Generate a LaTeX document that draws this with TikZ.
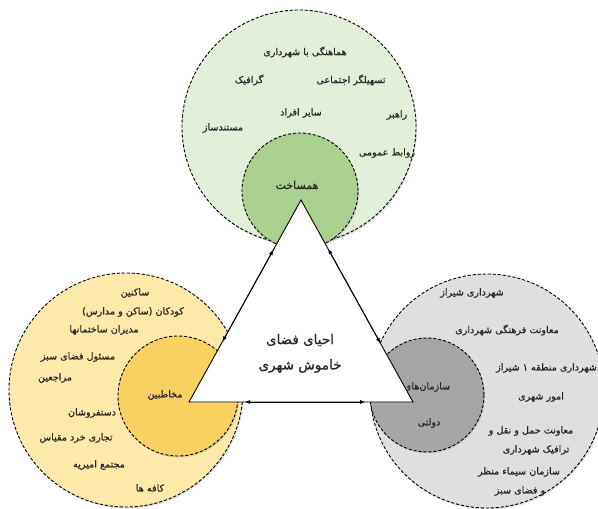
\documentclass[tikz,border=0pt]{standalone}
\usepackage{fontspec}
\newfontfamily\fa[Script=Arabic,FakeBold=0.6]{DejaVu Sans}
\TeXXeTstate=1
\usetikzlibrary{arrows.meta,shadows,calc}
\definecolor{gOut}{HTML}{E2EFD9}
\definecolor{gIn}{HTML}{A9D08E}
\definecolor{yOut}{HTML}{FDE9A9}
\definecolor{yIn}{HTML}{FAD262}
\definecolor{sOut}{HTML}{DFDFDF}
\definecolor{sIn}{HTML}{A6A6A6}
\definecolor{txt}{HTML}{262626}
\newcommand\rtl[1]{\beginR #1\endR}
\tikzset{
  ring/.style={circle, draw=black, dash pattern=on 3.2pt off 1.8pt, line width=0.9pt,
    inner sep=0pt, drop shadow={opacity=0.25, shadow xshift=1pt, shadow yshift=-1.5pt}},
  lbl/.style={font=\fa\fontsize{9.6}{11}\selectfont, text=txt, inner sep=0pt},
  mid/.style={font=\fa\fontsize{11}{13}\selectfont, text=txt, inner sep=0pt},
  big/.style={font=\fa\fontsize{13.5}{16}\selectfont, text=txt, inner sep=0pt},
  tri/.style={draw=black, line width=0.9pt, fill=white, line join=miter},
  dbl/.style={line width=0.9pt, {Latex[length=5pt,width=4.2pt]}-{Latex[length=5pt,width=4.2pt]}}
}
\begin{document}
\begin{tikzpicture}[x=1pt,y=-1pt]
\useasboundingbox (0,0) rectangle (598,509);
% circles
\node[ring, fill=gOut, minimum size=234pt] (topO) at (299,127) {};
\node[ring, fill=yOut, minimum size=234pt] (leftO) at (126,390) {};
\node[ring, fill=sOut, minimum size=234pt] (rightO) at (487,391) {};
\node[ring, fill=gIn, minimum size=116pt] (topI) at (300,191) {};
\node[ring, fill=yIn, minimum size=120pt] (leftI) at (178,396) {};
\node[ring, fill=sIn, minimum size=114pt] (rightI) at (427,395) {};
% top texts
\node[lbl] (t1) at (305,52) {\rtl{هماهنگی با شهرداری}};
\node[lbl] (t2) at (351,80) {\rtl{تسهیلگر اجتماعی}};
\node[lbl] (t3) at (249,80) {\rtl{گرافیک}};
\node[lbl] (t4) at (397,115) {\rtl{راهبر}};
\node[lbl] (t5) at (301,113) {\rtl{سایر افراد}};
\node[lbl] (t6) at (223,128) {\rtl{مستندساز}};
\node[lbl] (t7) at (387,153) {\rtl{روابط عمومی}};
\node[mid] (t8) at (297,185) {\rtl{همساخت}};
% left texts
\node[lbl] (l1) at (135,293) {\rtl{ساکنین}};
\node[lbl] (l2) at (133,312) {\rtl{کودکان (ساکن و مدارس)}};
\node[lbl] (l3) at (104,330) {\rtl{مدیران ساختمانها}};
\node[lbl] (l4) at (78,357) {\rtl{مسئول فضای سبز}};
\node[lbl] (l5) at (55,378) {\rtl{مراجعین}};
\node[lbl] (l6) at (165,395) {\rtl{مخاطبین}};
\node[lbl] (l7) at (92,413) {\rtl{دستفروشان}};
\node[lbl] (l8) at (76,438) {\rtl{تجاری خرد مقیاس}};
\node[lbl] (l9) at (99,465) {\rtl{مجتمع امیریه}};
\node[lbl] (l10) at (150,488) {\rtl{کافه ها}};
% right texts
\node[lbl] (r1) at (472,293) {\rtl{شهرداری شیراز}};
\node[lbl] (r2) at (507,330) {\rtl{معاونت فرهنگی شهرداری}};
\node[lbl, anchor=east] (r3) at (597,368) {\rtl{شهرداری منطقه ۱ شیراز}};
\node[lbl] (r4) at (541,397) {\rtl{امور شهری}};
\node[lbl] (r5) at (531,431) {\rtl{معاونت حمل و نقل و}};
\node[lbl] (r6) at (536,450) {\rtl{ترافیک شهرداری}};
\node[lbl] (r7) at (519,472) {\rtl{سازمان سیماء منظر}};
\node[lbl] (r8) at (520,491) {\rtl{و فضای سبز}};
\node[lbl] (r9) at (427,387) {\rtl{سازمان‌های}};
\node[lbl] (r10) at (429,423) {\rtl{دولتی}};
% triangle
\coordinate (A) at (301,200);
\coordinate (B) at (189,402);
\coordinate (C) at (413,402);
\draw[tri] (A) -- (B) -- (C) -- cycle;
\coordinate (ab1) at ($(A)!0.2475!(B)$);
\coordinate (ab2) at ($(A)!0.70!(B)$);
\coordinate (ac1) at ($(A)!0.2426!(C)$);
\coordinate (ac2) at ($(A)!0.708!(C)$);
\coordinate (bc1) at ($(B)!0.25!(C)$);
\coordinate (bc2) at ($(B)!0.786!(C)$);
\draw[dbl] (ab1) -- (ab2);
\draw[dbl] (ac1) -- (ac2);
\draw[dbl] (bc1) -- (bc2);
\node[big] (c1) at (300,340) {\rtl{احیای فضای}};
\node[big] (c2) at (300,366) {\rtl{خاموش شهری}};
\end{tikzpicture}
\end{document}
